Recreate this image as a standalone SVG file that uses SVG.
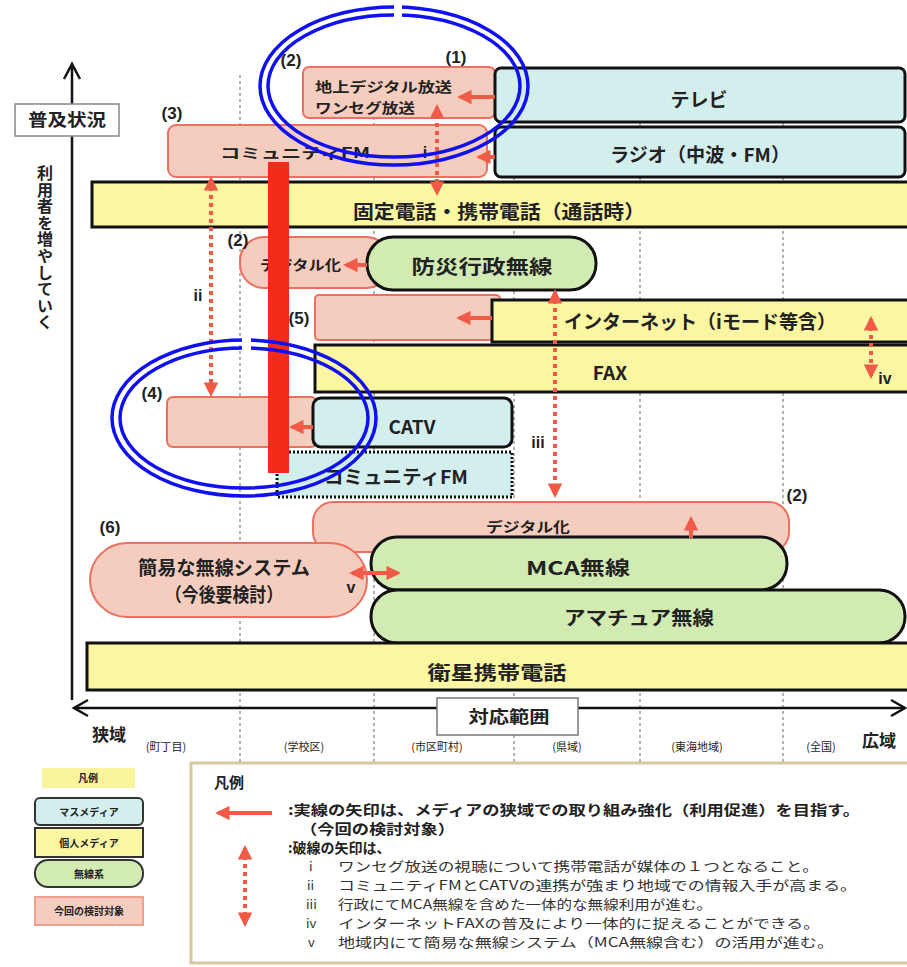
<svg xmlns="http://www.w3.org/2000/svg" width="907" height="967" viewBox="0 0 907 967">
<style>
text{font-family:"Noto Sans CJK JP","Liberation Sans",sans-serif;fill:#222}
.pink{fill:#f5cdbf;stroke:#ec7060;stroke-width:2}
.cyan{fill:#d3efed;stroke:#111;stroke-width:3}
.yel{fill:#faf6a2;stroke:#111;stroke-width:3}
.grn{fill:#d2ebb3;stroke:#111;stroke-width:3}
.grid{stroke:#666;stroke-width:1;stroke-dasharray:3 3}
.arr{stroke:#f25a48;stroke-width:4;fill:none}
.dash{stroke:#f25a48;stroke-width:4;fill:none;stroke-dasharray:4 4}
.big{font-size:19px;font-weight:700;text-anchor:middle}
.mid{font-size:14px;font-weight:700}
.num{font-family:"Liberation Sans",sans-serif;font-size:17px;font-weight:700;text-anchor:middle}
.rom{font-family:"Liberation Sans",sans-serif;font-size:16px;font-weight:700;text-anchor:middle}
.sm{font-size:11px;text-anchor:middle}
.leg{font-size:13px;fill:#333}
.legb{font-size:14px;font-weight:700}
.ell{fill:none;stroke:#1010f0;stroke-width:3.5}
</style>
<defs>
<marker id="ah" viewBox="0 0 10 10" refX="8" refY="5" markerWidth="3.6" markerHeight="3.6" orient="auto-start-reverse"><path d="M0,0 L10,5 L0,10 z" fill="#f25a48"/></marker>
</defs>
<rect width="907" height="967" fill="#fff"/>

<g id="grid">
<line class="grid" x1="240" y1="75" x2="240" y2="762"/>
<line class="grid" x1="374" y1="75" x2="374" y2="762"/>
<line class="grid" x1="514" y1="75" x2="514" y2="762"/>
<line class="grid" x1="640" y1="75" x2="640" y2="762"/>
<line class="grid" x1="783" y1="75" x2="783" y2="762"/>
</g>

<g id="axes" stroke="#111" stroke-width="2.5" fill="none">
<line x1="72" y1="65" x2="72" y2="700"/>
<polyline points="64,79 72,64 80,79"/>
<line x1="74" y1="708" x2="905" y2="708"/>
<polyline points="88,700 74,708 88,716"/>
<polyline points="891,700 905,708 891,716"/>
</g>

<g id="axis-labels">
<rect x="15" y="104" width="104" height="32" fill="#fff" stroke="#888" stroke-width="1.5"/>
<text x="67" y="126" font-size="17" font-weight="700" text-anchor="middle" textLength="78" lengthAdjust="spacingAndGlyphs">普及状況</text>
<text x="45" y="165" font-size="16" font-weight="700" style="writing-mode:vertical-rl" letter-spacing="0.6">利用者を増やしていく</text>
<rect x="437" y="698" width="141" height="37" fill="#fff" stroke="#777" stroke-width="1.5"/>
<text x="509" y="723" font-size="17" font-weight="700" text-anchor="middle" textLength="81" lengthAdjust="spacingAndGlyphs">対応範囲</text>
<text x="92" y="741" font-size="17" font-weight="700">狭域</text>
<text x="862" y="747" font-size="17" font-weight="700">広域</text>
<text class="sm" x="166" y="751">(町丁目)</text>
<text class="sm" x="304" y="751">(学校区)</text>
<text class="sm" x="437" y="751">(市区町村)</text>
<text class="sm" x="567" y="751">(県域)</text>
<text class="sm" x="697" y="751">(東海地域)</text>
<text class="sm" x="821" y="751">(全国)</text>
</g>

<g id="n-chijo">
<rect class="pink" x="303" y="67" width="192" height="51" rx="6"/>
<text class="mid" x="315" y="92" textLength="137" lengthAdjust="spacingAndGlyphs">地上デジタル放送</text>
<text class="mid" x="315" y="113" textLength="100" lengthAdjust="spacingAndGlyphs">ワンセグ放送</text>
</g>
<g id="n-tv">
<rect class="cyan" x="495" y="68" width="410" height="54" rx="6"/>
<text class="big" x="699" y="107">テレビ</text>
</g>
<g id="n-radio">
<rect class="cyan" x="495" y="127" width="410" height="50" rx="6"/>
<text class="big" x="700" y="162" textLength="180" lengthAdjust="spacingAndGlyphs">ラジオ（中波・FM）</text>
</g>
<g id="n-cfm3">
<rect class="pink" x="168" y="125" width="319" height="52" rx="8"/>
<text class="mid" x="220" y="158" textLength="150" lengthAdjust="spacingAndGlyphs">コミュニティFM</text>
</g>
<g id="n-fixed">
<rect class="yel" x="92" y="182" width="820" height="45"/>
<text class="big" x="499" y="219" font-size="20" textLength="292" lengthAdjust="spacingAndGlyphs">固定電話・携帯電話（通話時）</text>
</g>
<g id="n-digi2">
<rect class="pink" x="240" y="237" width="150" height="51" rx="24"/>
<text class="mid" x="260" y="270" textLength="81" lengthAdjust="spacingAndGlyphs">デジタル化</text>
</g>
<g id="n-bousai">
<rect class="grn" x="367" y="237" width="229" height="53" rx="26"/>
<text class="big" x="482" y="274" font-size="20" textLength="141" lengthAdjust="spacingAndGlyphs">防災行政無線</text>
</g>
<g id="n-5">
<rect class="pink" x="315" y="295" width="185" height="45" rx="4"/>
</g>
<g id="n-internet">
<rect class="yel" x="492" y="300" width="420" height="42"/>
<text class="big" x="700" y="329" textLength="272" lengthAdjust="spacingAndGlyphs">インターネット（iモード等含）</text>
</g>
<g id="n-fax">
<rect class="yel" x="315" y="345" width="597" height="47"/>
<text class="big" x="610" y="380" font-size="18" font-family="Liberation Sans,sans-serif">FAX</text>
</g>
<g id="n-4">
<rect class="pink" x="167" y="397" width="150" height="50" rx="6"/>
</g>
<g id="n-catv">
<rect class="cyan" x="313" y="398" width="199" height="49" rx="8"/>
<text class="big" x="412" y="434" font-size="20" font-family="Liberation Sans,sans-serif">CATV</text>
</g>
<g id="n-cfm">
<rect x="277" y="452" width="235" height="45" fill="#d3efed" stroke="#111" stroke-width="3" stroke-dasharray="2 2"/>
<text class="big" x="396" y="484" font-size="18" textLength="144" lengthAdjust="spacingAndGlyphs">コミュニティFM</text>
</g>
<g id="n-digi-b">
<rect class="pink" x="313" y="502" width="476" height="50" rx="20"/>
<text class="mid" x="528" y="532" text-anchor="middle" textLength="84" lengthAdjust="spacingAndGlyphs">デジタル化</text>
</g>
<g id="n-mca">
<rect class="grn" x="371" y="537" width="416" height="53" rx="26"/>
<text class="big" x="578" y="575" font-size="20" textLength="104" lengthAdjust="spacingAndGlyphs">MCA無線</text>
</g>
<g id="n-kani">
<rect class="pink" x="90" y="543" width="277" height="74" rx="37"/>
<text class="big" x="224" y="575" font-size="15.5" textLength="172" lengthAdjust="spacingAndGlyphs">簡易な無線システム</text>
<text class="big" x="224" y="602" font-size="15.5" textLength="118" lengthAdjust="spacingAndGlyphs">（今後要検討）</text>
</g>
<g id="n-amateur">
<rect class="grn" x="371" y="590" width="534" height="53" rx="26"/>
<text class="big" x="639" y="625" font-size="20" textLength="150" lengthAdjust="spacingAndGlyphs">アマチュア無線</text>
</g>
<g id="n-sat">
<rect class="yel" x="87" y="643" width="825" height="47"/>
<text class="big" x="497" y="680" font-size="20" textLength="139" lengthAdjust="spacingAndGlyphs">衛星携帯電話</text>
</g>

<g id="redbar">
<rect x="268" y="162" width="21" height="311" fill="#f42a1a"/>
</g>

<g id="connectors">
<line class="arr" x1="495" y1="97" x2="460" y2="97" marker-end="url(#ah)"/>
<line class="arr" x1="495" y1="157" x2="479" y2="157" marker-end="url(#ah)"/>
<line class="arr" x1="367" y1="265" x2="346" y2="265" marker-end="url(#ah)"/>
<line class="arr" x1="492" y1="318" x2="459" y2="318" marker-end="url(#ah)"/>
<line class="arr" x1="313" y1="427" x2="292" y2="427" marker-end="url(#ah)"/>
<line class="arr" x1="691" y1="538" x2="691" y2="519" marker-end="url(#ah)"/>
<line class="dash" x1="437" y1="107" x2="437" y2="193" marker-start="url(#ah)" marker-end="url(#ah)"/>
<line class="dash" x1="211" y1="179" x2="211" y2="394" marker-start="url(#ah)" marker-end="url(#ah)"/>
<line class="dash" x1="555" y1="292" x2="555" y2="495" marker-start="url(#ah)" marker-end="url(#ah)"/>
<line class="dash" x1="871" y1="319" x2="871" y2="376" marker-start="url(#ah)" marker-end="url(#ah)"/>
<line class="arr" x1="352" y1="573" x2="398" y2="573" marker-start="url(#ah)" marker-end="url(#ah)"/>
</g>

<g id="labels">
<text class="num" x="456" y="63">(1)</text>
<text class="num" x="291" y="66">(2)</text>
<text class="num" x="172" y="119">(3)</text>
<text class="num" x="238" y="246">(2)</text>
<text class="num" x="299" y="324">(5)</text>
<text class="num" x="152" y="399">(4)</text>
<text class="num" x="797" y="501">(2)</text>
<text class="num" x="110" y="533">(6)</text>
<text class="rom" x="425" y="158">i</text>
<text class="rom" x="198" y="301">ii</text>
<text class="rom" x="538" y="448">iii</text>
<text class="rom" x="885" y="384">iv</text>
<text class="rom" x="351" y="593">v</text>
</g>

<g id="legend-left">
<rect x="42" y="768" width="93" height="20" fill="#faf59c"/>
<text x="88" y="782" font-size="10" font-weight="700" text-anchor="middle">凡例</text>
<rect x="35" y="798" width="108" height="27" rx="5" fill="#d3efed" stroke="#333" stroke-width="2"/>
<text x="89" y="816" font-size="10" font-weight="700" text-anchor="middle">マスメディア</text>
<rect x="35" y="828" width="108" height="29" fill="#faf6a2" stroke="#333" stroke-width="2"/>
<text x="89" y="847" font-size="10" font-weight="700" text-anchor="middle">個人メディア</text>
<rect x="35" y="860" width="108" height="27" rx="13" fill="#d2ebb3" stroke="#333" stroke-width="2"/>
<text x="89" y="878" font-size="10" font-weight="700" text-anchor="middle">無線系</text>
<rect x="35" y="897" width="108" height="28" fill="#f5cdbf" stroke="#f0a090" stroke-width="2"/>
<text x="89" y="915" font-size="10" font-weight="700" text-anchor="middle">今回の検討対象</text>
</g>

<g id="legend-right">
<rect x="191" y="763" width="721" height="200" fill="#fff" stroke="#d8c8a0" stroke-width="3"/>
<text x="214" y="788" font-size="15" font-weight="700">凡例</text>
<line class="arr" x1="272" y1="813" x2="218" y2="813" marker-end="url(#ah)"/>
<line class="dash" x1="245" y1="848" x2="245" y2="924" marker-start="url(#ah)" marker-end="url(#ah)"/>
<text class="legb" x="288" y="815" textLength="572" lengthAdjust="spacingAndGlyphs">:実線の矢印は、メディアの狭域での取り組み強化（利用促進）を目指す。</text>
<text class="legb" x="300" y="834" textLength="155" lengthAdjust="spacingAndGlyphs">（今回の検討対象）</text>
<text class="legb" x="288" y="853">:破線の矢印は、</text>
<text class="leg" x="309" y="871">i</text>
<text class="leg" x="338" y="871" textLength="481" lengthAdjust="spacingAndGlyphs">ワンセグ放送の視聴について携帯電話が媒体の１つとなること。</text>
<text class="leg" x="307" y="890">ii</text>
<text class="leg" x="338" y="890" textLength="519" lengthAdjust="spacingAndGlyphs">コミュニティFMとCATVの連携が強まり地域での情報入手が高まる。</text>
<text class="leg" x="306" y="909">iii</text>
<text class="leg" x="338" y="909" textLength="374" lengthAdjust="spacingAndGlyphs">行政にてMCA無線を含めた一体的な無線利用が進む。</text>
<text class="leg" x="306" y="928">iv</text>
<text class="leg" x="338" y="928" textLength="482" lengthAdjust="spacingAndGlyphs">インターネットFAXの普及により一体的に捉えることができる。</text>
<text class="leg" x="308" y="947">v</text>
<text class="leg" x="338" y="947" textLength="496" lengthAdjust="spacingAndGlyphs">地域内にて簡易な無線システム（MCA無線含む）の活用が進む。</text>
</g>

<g id="highlights">
<ellipse class="ell" cx="394" cy="86" rx="134" ry="79"/>
<ellipse class="ell" cx="394" cy="86" rx="126" ry="71"/>
<rect x="394" y="3" width="8" height="17" fill="#fff"/>
<ellipse class="ell" cx="244" cy="418" rx="132" ry="78"/>
<ellipse class="ell" cx="244" cy="418" rx="124" ry="70"/>
<rect x="242" y="336" width="9" height="16" fill="#fff"/>
</g>
</svg>
